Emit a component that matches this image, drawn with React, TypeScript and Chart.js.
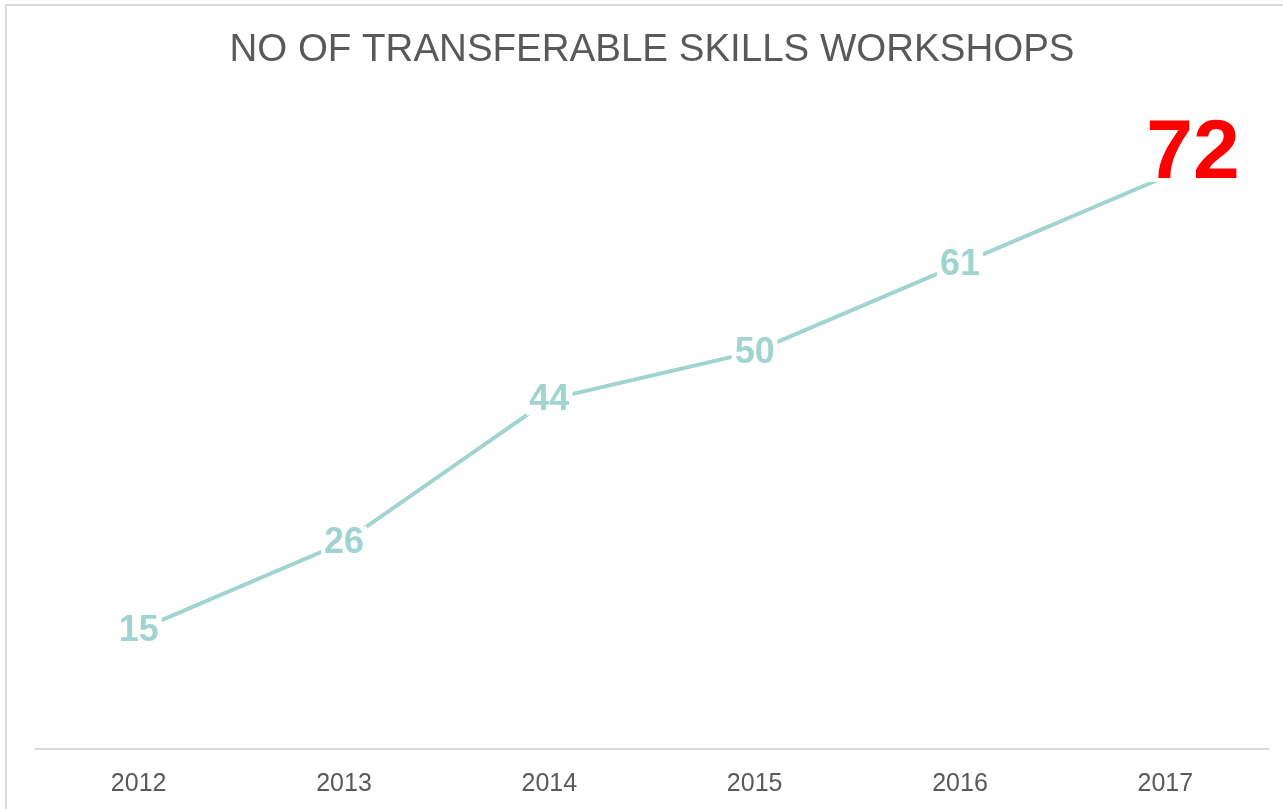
import React, { useEffect, useRef } from "react";
import { Chart, registerables } from "chart.js";

Chart.register(...registerables);

const TITLE = "NO OF TRANSFERABLE SKILLS WORKSHOPS";
const years = ["2012", "2013", "2014", "2015", "2016", "2017"];
const workshops = [15, 26, 44, 50, 61, 72];

const LINE_COLOR = "#a0d4cf";
const TEXT_GRAY = "#595959";
const FONT = "'Liberation Sans', Arial, sans-serif";

const labelPlugin = {
  id: "pointLabels",
  afterDatasetsDraw(chart: any) {
    const ctx = chart.ctx;
    const meta = chart.getDatasetMeta(0);
    const data = chart.data.datasets[0].data as number[];
    ctx.save();
    meta.data.forEach((pt: any, i: number) => {
      const text = String(data[i]);
      const last = i === data.length - 1;
      if (last) {
        ctx.font = `bold 84px ${FONT}`;
        const w = ctx.measureText(text).width;
        const lx = pt.x - 19;
        const by = pt.y + 1;
        ctx.fillStyle = "#ffffff";
        ctx.fillRect(lx - 3, by - 64, w + 6, 68);
        ctx.fillStyle = "#ff0000";
        ctx.textAlign = "left";
        ctx.textBaseline = "alphabetic";
        ctx.fillText(text, lx, by);
      } else {
        ctx.font = `bold 36px ${FONT}`;
        const w = ctx.measureText(text).width;
        ctx.fillStyle = "#ffffff";
        ctx.fillRect(pt.x - w / 2 - 3, pt.y - 16, w + 6, 32);
        ctx.fillStyle = LINE_COLOR;
        ctx.textAlign = "center";
        ctx.textBaseline = "middle";
        ctx.fillText(text, pt.x, pt.y + 1);
      }
    });
    ctx.restore();
  },
};

export default function App() {
  const ref = useRef<HTMLCanvasElement | null>(null);
  useEffect(() => {
    if (!ref.current) return;
    const chart = new Chart(ref.current, {
      type: "line",
      data: {
        labels: years,
        datasets: [
          {
            data: workshops,
            borderColor: LINE_COLOR,
            borderWidth: 4,
            pointRadius: 0,
            tension: 0,
            fill: false,
          },
        ],
      },
      plugins: [labelPlugin],
      options: {
        responsive: false,
        animation: false,
        layout: { padding: { left: 36, right: 15, top: 0, bottom: 0 } },
        plugins: {
          legend: { display: false },
          tooltip: { enabled: false },
          title: {
            display: true,
            text: TITLE,
            color: TEXT_GRAY,
            font: { family: FONT, size: 38.5, weight: "normal" },
            padding: { top: 27, bottom: 40 },
          },
        },
        scales: {
          x: {
            offset: true,
            grid: { display: false, drawTicks: false },
            border: { display: true, color: "#d9d9d9", width: 2 },
            ticks: {
              color: TEXT_GRAY,
              font: { family: FONT, size: 25 },
              padding: 20,
            },
            afterFit: (s: any) => {
              s.height = 60;
            },
          },
          y: {
            display: false,
            min: 0,
            max: 80,
          },
        },
      },
    });
    return () => chart.destroy();
  }, []);

  return (
    <div
      style={{
        position: "fixed",
        left: 0,
        top: 0,
        width: 1283,
        height: 809,
        overflow: "hidden",
        background: "#ffffff",
      }}
    >
      <div
        style={{
          position: "absolute",
          left: 5,
          top: 4,
          width: 1400,
          height: 900,
          border: "2px solid #d9d9d9",
          boxSizing: "border-box",
        }}
      />
      <canvas
        ref={ref}
        width={1283}
        height={809}
        style={{ position: "absolute", left: 0, top: 0, width: 1283, height: 809 }}
      />
    </div>
  );
}
